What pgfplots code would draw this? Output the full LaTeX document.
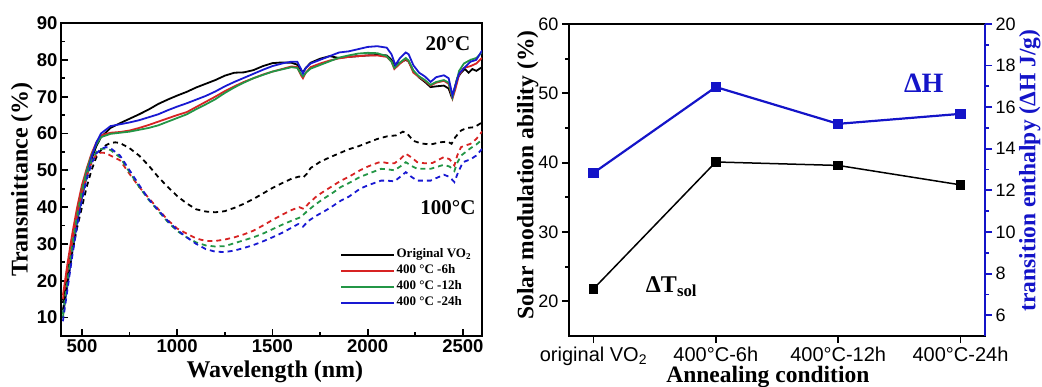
\documentclass[border=0pt]{standalone}
\usepackage{fontspec}
\setmainfont{Liberation Serif}
\newfontfamily\arial{Liberation Sans}
\usepackage{pgfplots}
\pgfplotsset{compat=1.18}
\definecolor{cred}{RGB}{215,35,35}
\definecolor{cgreen}{RGB}{35,150,70}
\definecolor{cblue}{RGB}{25,25,210}
\definecolor{hblue}{RGB}{20,20,200}
\begin{document}
\begin{tikzpicture}
\path[use as bounding box] (0,0) rectangle (1042pt,386pt);
% ---------------- left panel ----------------
\begin{axis}[
  at={(61pt,50pt)}, anchor=south west, scale only axis,
  width=421pt, height=313pt,
  xmin=390, xmax=2600, ymin=5, ymax=90,
  xtick={500,1000,...,2500}, ytick={10,20,...,90},
  minor x tick num=1, minor y tick num=1,
  tick align=inside, xtick pos=bottom, ytick pos=left,
  major tick length=7pt, minor tick length=4pt,
  axis line style={line width=2.5pt},
  tick style={line width=1.8pt, black},
  /pgf/number format/assume math mode=true,
  /pgf/number format/1000 sep={},
  ticklabel style={font=\arial\bfseries\fontsize{18.5}{20}\selectfont},
  xlabel={Wavelength (nm)}, ylabel={Transmittance (\%)},
  label style={font=\bfseries\fontsize{24}{26}\selectfont},
  xlabel style={at={(axis description cs:0.508,-0.115)}, anchor=center},
  ylabel style={at={(axis description cs:-0.093,0.5)}, anchor=center},
  legend style={at={(0.663,0.286)}, anchor=north west, draw=none, fill=none,
    font=\bfseries\fontsize{13}{14}\selectfont, inner sep=0pt, row sep=0pt,
    nodes={inner sep=1.5pt, text height=9.5pt, text depth=3.5pt}},
  legend cell align=left,
  legend image code/.code={\draw[#1] (0pt,0pt) -- (53pt,0pt);},
]
% solid (20 C)
\addplot[black, line width=1.8pt] coordinates {
(400,14) (425,22) (450,30) (475,37) (500,43) (525,48.5) (550,53) (575,56.5) (600,59) (650,61.5) (700,62.8) (750,64) (800,65.2) (850,66.5) (900,68) (950,69.2) (1000,70.3) (1050,71.3) (1100,72.5) (1150,73.5) (1200,74.5) (1250,75.7) (1300,76.5) (1350,76.6) (1400,77.2) (1450,78.3) (1500,79.1) (1550,79.3) (1600,79.2) (1630,78.7) (1650,77.2) (1660,76.6) (1675,77.8) (1700,79.2) (1750,80.3) (1800,81) (1850,80.5) (1900,80.8) (1950,81) (2000,81.2) (2050,81.3) (2100,81.2) (2125,80) (2140,78.2) (2160,79) (2200,80) (2215,79.5) (2240,77) (2270,75.2) (2300,74) (2330,72.6) (2360,72.8) (2400,73) (2425,72.2) (2440,70) (2450,71) (2470,75) (2490,76.5) (2510,77.5) (2530,76.5) (2550,77.5) (2570,77) (2600,78)};
\addlegendentry{Original VO\textsubscript{2}}
\addplot[cred, line width=1.8pt] coordinates {
(400,16) (425,25) (450,33) (475,40) (500,46) (525,50.5) (550,54.5) (575,57.5) (600,59.5) (650,60.2) (700,60.4) (750,60.8) (800,61.5) (850,62.3) (900,63.2) (950,64.1) (1000,65) (1050,65.8) (1100,67.2) (1150,68.6) (1200,70) (1250,71.5) (1300,72.8) (1350,74) (1400,75) (1450,76) (1500,76.8) (1550,77.5) (1600,78.2) (1630,78) (1650,75.8) (1660,75) (1675,76.5) (1700,78) (1750,79) (1800,79.8) (1850,80.4) (1900,80.8) (1950,81) (2000,81.2) (2050,81.2) (2100,80.8) (2125,79.5) (2140,77.5) (2170,79) (2200,80.2) (2215,79.5) (2240,76.5) (2270,75.3) (2300,74.3) (2330,73) (2360,73.8) (2400,74.3) (2425,73.5) (2445,69.5) (2460,72) (2480,76) (2505,77.8) (2540,78.3) (2570,79) (2600,80.5)};
\addlegendentry{400 °C -6h}
\addplot[cgreen, line width=1.8pt] coordinates {
(400,10) (425,20) (450,30) (475,38) (500,44.5) (525,50) (550,54) (575,57) (600,59) (650,59.9) (700,60.2) (750,60.5) (800,61) (850,61.5) (900,62.2) (950,63.2) (1000,64.2) (1050,65.2) (1100,66.6) (1150,67.9) (1200,69.3) (1250,71) (1300,72.5) (1350,73.8) (1400,75) (1450,75.9) (1500,76.8) (1550,77.4) (1600,78) (1630,77.8) (1650,76.2) (1660,75.5) (1675,76.5) (1700,77.6) (1750,78.6) (1800,79.6) (1850,80.6) (1900,81.2) (1950,81.7) (2000,81.9) (2050,81.8) (2100,81) (2125,79.5) (2140,77.8) (2170,79.3) (2200,80.5) (2215,79.8) (2240,77) (2270,75.5) (2300,74.5) (2330,73.2) (2360,74) (2400,74.5) (2425,73.8) (2445,69.8) (2460,73) (2480,77) (2505,79) (2540,80) (2570,80.5) (2600,82)};
\addlegendentry{400 °C -12h}
\addplot[cblue, line width=1.8pt] coordinates {
(400,11) (425,19) (450,28) (475,36) (500,42.5) (525,48.5) (550,53.5) (575,57.5) (600,60) (650,62) (700,62.5) (750,63) (800,63.6) (850,64.4) (900,65.2) (950,66.3) (1000,67.3) (1050,68.2) (1100,69.2) (1150,70.2) (1200,71.4) (1250,72.8) (1300,74) (1350,75.1) (1400,76.2) (1450,77.3) (1500,78.3) (1550,79) (1600,79.5) (1630,79.5) (1650,77.5) (1660,76.3) (1675,77.8) (1700,79) (1750,80) (1800,81) (1850,82) (1900,82.3) (1950,82.9) (2000,83.5) (2050,83.7) (2100,83.3) (2125,81.5) (2145,78.6) (2170,80.5) (2200,82) (2215,81.5) (2240,78.5) (2270,76.5) (2300,75.5) (2330,74) (2360,75.3) (2400,75.8) (2425,75) (2445,70.4) (2460,73) (2480,76.3) (2510,78) (2540,79.5) (2570,80) (2600,82.5)};
\addlegendentry{400 °C -24h}
% dashed (100 C)
\addplot[black, line width=1.8pt, dash pattern=on 5pt off 4pt, forget plot] coordinates {
(400,12) (425,20) (450,28) (475,34.5) (500,40) (525,45.5) (550,50) (575,53.5) (600,55.5) (625,56.8) (650,57.4) (675,57.6) (700,57.4) (750,56) (800,54) (850,51.3) (900,48.2) (950,45.5) (1000,43) (1050,41) (1100,39.4) (1150,38.8) (1200,38.6) (1250,38.9) (1300,39.8) (1350,40.9) (1400,42.2) (1450,43.7) (1500,45.2) (1550,46.5) (1600,47.7) (1640,48.3) (1660,48) (1680,49) (1700,50.6) (1750,52.3) (1800,53.5) (1850,54.6) (1900,55.7) (1950,56.5) (2000,57.5) (2050,58.5) (2100,59.2) (2150,59.5) (2185,60.5) (2210,59.8) (2240,58) (2280,57.3) (2330,57) (2380,57.6) (2420,57.8) (2440,57.2) (2460,59) (2490,60.8) (2520,61.5) (2560,61.7) (2600,63)};
\addplot[cred, line width=1.8pt, dash pattern=on 5pt off 4pt, forget plot] coordinates {
(400,15) (425,23) (450,31) (475,38) (500,44) (525,48.5) (550,52) (575,54.2) (600,54.8) (625,54.7) (650,54) (700,52.7) (750,49) (800,45.5) (850,42.5) (900,39.5) (950,36.5) (1000,34.2) (1050,32.8) (1100,31.5) (1150,30.8) (1200,30.8) (1250,31.2) (1300,31.8) (1350,32.6) (1400,33.6) (1450,35) (1500,36.5) (1550,37.9) (1600,39.2) (1640,40) (1665,39.5) (1690,41) (1735,43.1) (1780,44.6) (1820,45.9) (1860,47.2) (1900,48.2) (1960,50) (2000,51) (2050,52) (2070,52.3) (2100,52) (2140,51.9) (2170,53) (2200,54.5) (2230,53.5) (2260,52.2) (2300,51.9) (2340,52) (2400,53.6) (2430,53) (2455,51.3) (2470,54) (2490,56.3) (2540,57.2) (2570,58.5) (2600,60.5)};
\addplot[cgreen, line width=1.8pt, dash pattern=on 5pt off 4pt, forget plot] coordinates {
(400,11) (425,20) (450,29) (475,37) (500,43.5) (525,48.5) (550,52.5) (575,55) (600,55.8) (625,55.9) (650,55.5) (700,53.5) (750,49.5) (800,45.5) (850,42) (900,39) (950,36) (1000,33.5) (1050,31.8) (1100,30.4) (1150,29.6) (1200,29.3) (1250,29.4) (1300,30.2) (1350,31) (1400,31.8) (1450,32.8) (1500,34) (1550,35.2) (1600,36.3) (1650,37.3) (1680,38.8) (1720,40.5) (1760,42) (1820,44) (1860,45.5) (1900,46.5) (1960,48.2) (2000,49) (2070,50.4) (2100,50.3) (2140,50) (2170,51) (2200,52.2) (2230,51.2) (2260,50.4) (2330,50.4) (2400,51.5) (2430,51) (2455,49.8) (2470,52) (2490,54) (2540,56) (2570,57) (2600,58.3)};
\addplot[cblue, line width=1.8pt, dash pattern=on 5pt off 4pt, forget plot] coordinates {
(400,9) (425,18) (450,27) (475,35) (500,42) (525,47.5) (550,51.8) (575,54.5) (600,55.8) (625,56.3) (650,56) (700,54) (750,50) (800,46) (850,42.2) (900,39.2) (950,36.3) (1000,33.8) (1050,31.8) (1100,30) (1150,28.6) (1200,27.9) (1250,27.8) (1300,28.2) (1350,28.9) (1400,29.7) (1450,30.7) (1500,31.8) (1550,33) (1600,34.4) (1635,35.4) (1660,34.7) (1690,36.3) (1735,37.8) (1780,39.1) (1820,40.4) (1860,41.8) (1900,42.8) (1960,45) (2000,45.9) (2070,47.2) (2100,47.2) (2140,47) (2170,48.2) (2200,49.5) (2230,48.2) (2260,47.2) (2330,47.2) (2400,48.8) (2430,48.2) (2455,46.8) (2475,49.5) (2500,52.2) (2540,53) (2570,54) (2600,55.8)};
\node[font=\bfseries\fontsize{21}{23}\selectfont] at (axis cs:2421,84.5) {20°C};
\node[font=\bfseries\fontsize{21}{23}\selectfont] at (axis cs:2421,39.9) {100°C};
\end{axis}
% ---------------- right panel: left axis ----------------
\begin{axis}[
  at={(569pt,50pt)}, anchor=south west, scale only axis,
  width=416pt, height=312pt,
  xmin=-0.2, xmax=3.2, ymin=15, ymax=60,
  xtick={0,1,2,3},
  xticklabels={original VO\textsubscript{2}, 400°C-6h, 400°C-12h, 400°C-24h},
  ytick={20,30,...,60}, minor y tick num=1,
  tick align=outside, xtick pos=bottom, ytick pos=left,
  major tick length=7pt, minor tick length=4pt,
  axis line style={line width=2.5pt},
  tick style={line width=1.8pt, black},
  /pgf/number format/assume math mode=true,
  ticklabel style={font=\arial\fontsize{18}{20}\selectfont},
  xticklabel style={font=\arial\fontsize{20}{22}\selectfont},
  xlabel={Annealing condition}, ylabel={Solar modulation ability (\%)},
  label style={font=\bfseries\fontsize{23.5}{26}\selectfont},
  xlabel style={at={(axis description cs:0.478,-0.131)}, anchor=center},
  ylabel style={at={(axis description cs:-0.099,0.516)}, anchor=center},
]
\addplot[black, line width=1.5pt, mark=square*, mark size=4pt] coordinates {
(0,21.8) (1,40.1) (2,39.6) (3,36.8)};
\node[anchor=base west, font=\bfseries\fontsize{24}{26}\selectfont] at (axis cs:0.40,21.3) {ΔT\textsubscript{sol}};
\node[text=hblue, font=\bfseries\fontsize{28}{30}\selectfont] at (axis cs:2.70,51.5) {ΔH};
\end{axis}
% ---------------- right panel: right axis ----------------
\begin{axis}[
  at={(569pt,50pt)}, anchor=south west, scale only axis,
  width=416pt, height=312pt,
  xmin=-0.2, xmax=3.2, ymin=5, ymax=20,
  axis y line*=right, axis x line=none,
  ytick={6,8,...,20}, minor y tick num=1,
  tick align=outside,
  major tick length=7pt, minor tick length=4pt,
  y axis line style={hblue, line width=2.5pt},
  tick style={line width=1.8pt, hblue},
  /pgf/number format/assume math mode=true,
  ticklabel style={font=\arial\fontsize{18}{20}\selectfont, black},
  ylabel={transition enthalpy (ΔH J/g)},
  ylabel style={at={(axis description cs:1.108,0.53)}, anchor=center, rotate=0,
    text=hblue, font=\bfseries\fontsize{23.5}{26}\selectfont},
]
\addplot[hblue, line width=2.2pt, mark=square*, mark size=4pt] coordinates {
(0,12.84) (1,16.97) (2,15.2) (3,15.68)};
\end{axis}
\end{tikzpicture}
\end{document}
